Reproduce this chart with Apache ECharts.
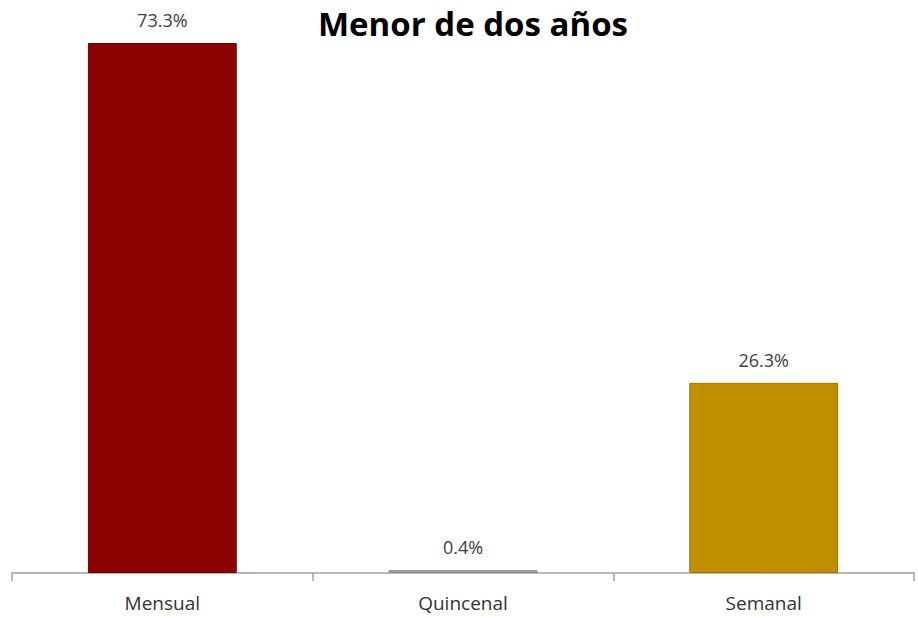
<!DOCTYPE html>
<html>
<head>
<meta charset="utf-8">
<script src="https://cdn.jsdelivr.net/npm/echarts@6/dist/echarts.min.js"></script>
<style>
  html, body { margin: 0; padding: 0; background: #ffffff; }
  #chart { width: 918px; height: 618px; }
</style>
</head>
<body>
<div id="chart"></div>
<script>
var categories = ['Mensual', 'Quincenal', 'Semanal'];
var values = [73.3, 0.4, 26.3];
var barColors = ['#8b0000', '#a6a6a6', '#bf8f00'];
var borderColors = ['#6e0000', '#8c8c8c', '#9e7600'];

var chart = echarts.init(document.getElementById('chart'), null, { renderer: 'svg' });
chart.setOption({
  animation: false,
  title: {
    text: 'Menor de dos años',
    left: 318,
    top: 6,
    padding: 0,
    textStyle: { fontFamily: 'Open Sans', fontWeight: 'bold', fontSize: 33, lineHeight: 34, color: '#000' }
  },
  grid: { left: 12, right: 4, top: 43, bottom: 45 },
  xAxis: {
    type: 'category',
    data: categories,
    axisLine: { lineStyle: { color: '#a0a0a0', width: 1.5 } },
    axisTick: { show: true, length: 8, lineStyle: { color: '#a0a0a0', width: 1.5 } },
    axisLabel: { color: '#333', fontSize: 19, fontFamily: 'Open Sans', margin: 20 }
  },
  yAxis: {
    type: 'value',
    min: 0,
    max: 73.3,
    show: false
  },
  series: [{
    type: 'bar',
    barWidth: '49.5%',
    data: values.map(function(v, i) {
      return { value: v, itemStyle: { color: barColors[i], borderColor: borderColors[i], borderWidth: 1 } };
    }),
    label: {
      show: true,
      position: 'top',
      distance: 14,
      formatter: function(p) { return p.value.toFixed(1) + '%'; },
      color: '#404040',
      fontSize: 18,
      fontFamily: 'Open Sans'
    }
  }]
});
</script>
</body>
</html>
